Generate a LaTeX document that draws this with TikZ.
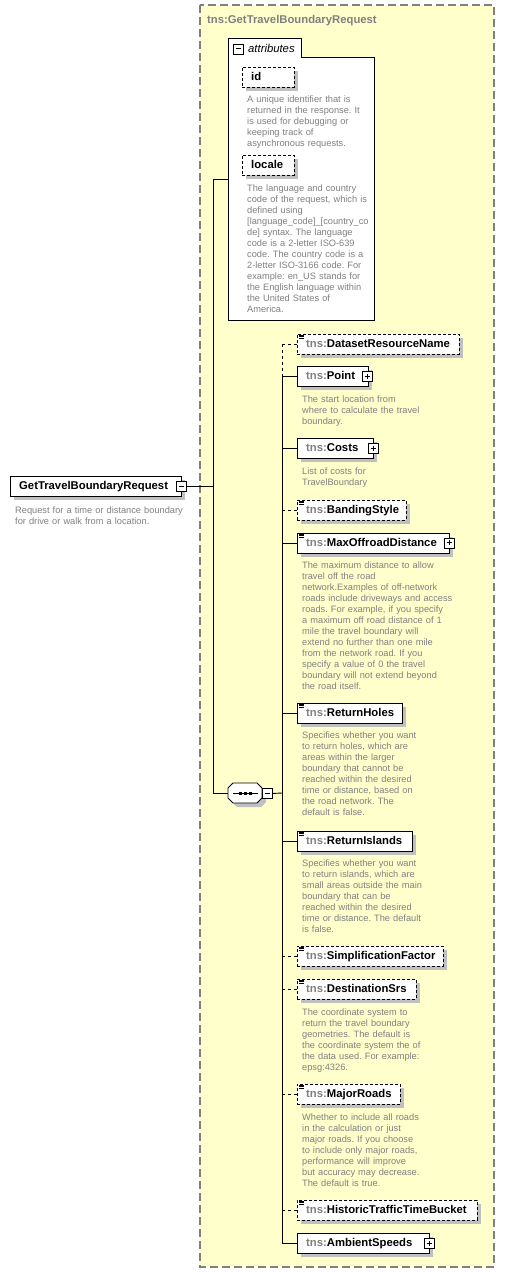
\documentclass[tikz,border=0pt]{standalone}
\usepackage{fontspec}
\setmainfont{Liberation Sans}
\usetikzlibrary{calc}
\frenchspacing
\definecolor{bgyellow}{HTML}{FFFFCC}
\definecolor{dgray}{HTML}{808080}
\definecolor{shgray}{HTML}{C0C0C0}
\tikzset{
  lbl/.style={inner sep=0pt, anchor=base west, font=\fontsize{11.3}{13}\selectfont\bfseries},
  desc/.style={inner sep=0pt, anchor=base west, text width=220pt, align=left, text=dgray, font=\fontsize{9.25}{11}\selectfont\frenchspacing},
  ebox/.style={draw=black, fill=white, line width=0.9pt, inner sep=0pt, minimum height=20pt, anchor=north west},
  optbox/.style={ebox, dash pattern=on 3pt off 2pt},
  iconbox/.style={draw=black, fill=white, line width=0.9pt, inner sep=0pt, minimum size=10pt, anchor=north west},
  conn/.style={line width=0.9pt},
  optconn/.style={line width=0.9pt, dash pattern=on 3pt off 3pt},
  shade/.style={fill=shgray},
  typebox/.style={draw=dgray, fill=bgyellow, line width=1.2pt, dash pattern=on 8pt off 4pt},
}
\newcommand\elem[5]{%
  \fill[shade] (301,#2+4) rectangle ++(#3,20);
  \node[#4, minimum width=#3pt] (#1) at (297,#2) {};
  \node[lbl] (#1-t) at (306,#2+13.5) {\textcolor{dgray}{tns:}#5};
}
\newcommand\listicon[2]{\foreach \d in {1.2,2.6,4.0} {\draw[line width=0.7pt] (#1+2,#2+\d) -- ++(5,0);}}
\newcommand\pmicon[4]{%
  \fill[black] (#2+1.2,#3+1.2) rectangle ++(10,10);
  \node[iconbox] (#1) at (#2,#3) {};
  \draw[line width=0.9pt] (#2+2.5,#3+5) -- ++(5,0);
  \ifnum#4=1 \draw[line width=0.9pt] (#2+5,#3+2.5) -- ++(0,5);\fi
}
\begin{document}
\begin{tikzpicture}[x=1pt,y=-1pt]
\useasboundingbox (0,0) rectangle (505,1275);
% type container
\draw[typebox] (200,5) rectangle (494,1267);
\node[lbl, text=dgray] (title) at (207,23) {tns:GetTravelBoundaryRequest};
% attributes
\node[inner sep=0pt, minimum width=146pt, minimum height=282pt, anchor=north west] (attrs) at (228,38) {};
\draw[fill=white, line width=0.9pt] (228,38) -- (301,38) -- (301,57) -- (374,57) -- (374,320) -- (228,320) -- cycle;
\pmicon{attrminus}{233}{43.5}{0}
\node[inner sep=0pt, anchor=base west, font=\fontsize{11.3}{13}\selectfont\itshape] (attrlbl) at (248,52) {attributes};
\fill[shade] (246,71) rectangle ++(52,20);
\node[optbox, minimum width=52pt] (id) at (242,67) {};
\node[lbl] (id-t) at (251,80.5) {id};
\node[desc] (iddesc) at (247,102) {A unique identifier that is\\returned in the response. It\\is used for debugging or\\keeping track of\\asynchronous requests.};
\fill[shade] (246,159) rectangle ++(52,20);
\node[optbox, minimum width=52pt] (locale) at (242,155) {};
\node[lbl] (locale-t) at (251,168.5) {locale};
\node[desc] (localedesc) at (247,191) {The language and country\\code of the request, which is\\defined using\\{[}language\_code{]}\_{[}country\_co\\de{]} syntax. The language\\code is a 2-letter ISO-639\\code. The country code is a\\2-letter ISO-3166 code. For\\example: en\_US stands for\\the English language within\\the United States of\\America.};
% main element
\fill[shade] (14,480) rectangle ++(171,20);
\node[ebox, minimum width=171pt] (main) at (10,476) {};
\node[lbl] (main-t) at (19,489.5) {GetTravelBoundaryRequest};
\pmicon{mainminus}{176}{481}{0}
\node[desc] (maindesc) at (15,513) {Request for a time or distance boundary\\for drive or walk from a location.};
% sequence
\node[inner sep=0pt, minimum width=34pt, minimum height=20pt] (seq) at (245,793) {};
\fill[shade] (232,792) -- (237,787) -- (261,787) -- (266,792) -- (266,802) -- (261,807) -- (237,807) -- (232,802) -- cycle;
\draw[fill=white, line width=0.9pt] (228,788) -- (233,783) -- (257,783) -- (262,788) -- (262,798) -- (257,803) -- (233,803) -- (228,798) -- cycle;
\draw[line width=0.9pt] (233,793) -- (258,793);
\foreach \sx in {238.5,243.5,248.5} {\fill (\sx,791.5) rectangle ++(3.8,3);}
\pmicon{seqminus}{262}{788}{0}
% trunk connectors
\coordinate (attrin) at (228,179);
\coordinate (tA) at (213,179);
\coordinate (tB) at (213,793);
\coordinate (tC) at (282,793);
\draw[conn] (attrin) -- (tA) -- (tB) -- (seq.west);
\draw[conn] (mainminus.east) -- (mainminus.east -| tA);
\draw[conn] (seqminus.east) -- (tC);
% children
\elem{drn}{334}{162}{optbox}{DatasetResourceName}
\listicon{297}{334}
\elem{point}{366}{71}{ebox}{Point}
\pmicon{pointplus}{362}{371}{1}
\node[desc] (pointdesc) at (302,402.5) {The start location from\\where to calculate the travel\\boundary.};
\elem{costs}{438}{76}{ebox}{Costs}
\pmicon{costsplus}{368}{443}{1}
\node[desc] (costsdesc) at (302,474) {List of costs for\\TravelBoundary};
\elem{banding}{500}{109}{optbox}{BandingStyle}
\listicon{297}{500}
\elem{maxoff}{533}{152}{ebox}{MaxOffroadDistance}
\listicon{297}{533}
\pmicon{maxoffplus}{444}{537.5}{1}
\node[desc] (maxoffdesc) at (302,568) {The maximum distance to allow\\travel off the road\\network.Examples of off-network\\roads include driveways and access\\roads. For example, if you specify\\a maximum off road distance of 1\\mile the travel boundary will\\extend no further than one mile\\from the network road. If you\\specify a value of 0 the travel\\boundary will not extend beyond\\the road itself.};
\elem{rholes}{703}{105}{ebox}{ReturnHoles}
\listicon{297}{703}
\node[desc] (rholesdesc) at (302,738.5) {Specifies whether you want\\to return holes, which are\\areas within the larger\\boundary that cannot be\\reached within the desired\\time or distance, based on\\the road network. The\\default is false.};
\elem{rislands}{831}{115}{ebox}{ReturnIslands}
\listicon{297}{831}
\node[desc] (rislandsdesc) at (302,866) {Specifies whether you want\\to return islands, which are\\small areas outside the main\\boundary that can be\\reached within the desired\\time or distance. The default\\is false.};
\elem{simp}{946}{146}{optbox}{SimplificationFactor}
\listicon{297}{946}
\elem{dest}{979}{119}{optbox}{DestinationSrs}
\listicon{297}{979}
\node[desc] (destdesc) at (302,1015) {The coordinate system to\\return the travel boundary\\geometries. The default is\\the coordinate system the of\\the data used. For example:\\epsg:4326.};
\elem{major}{1084}{103}{optbox}{MajorRoads}
\listicon{297}{1084}
\node[desc] (majordesc) at (302,1120) {Whether to include all roads\\in the calculation or just\\major roads. If you choose\\to include only major roads,\\performance will improve\\but accuracy may decrease.\\The default is true.};
\elem{hist}{1200}{180}{optbox}{HistoricTrafficTimeBucket}
\listicon{297}{1200}
\elem{ambient}{1233}{132}{ebox}{AmbientSpeeds}
\pmicon{ambientplus}{424}{1238}{1}
% child connectors
\draw[optconn] (drn.west -| tC) -- (point.west -| tC);
\draw[conn] (point.west -| tC) -- (ambient.west -| tC);
\foreach \c in {drn,banding,simp,dest,major,hist} {\draw[optconn] (\c.west -| tC) -- (\c.west);}
\foreach \c in {point,costs,maxoff,rholes,rislands,ambient} {\draw[conn] (\c.west -| tC) -- (\c.west);}
\end{tikzpicture}
\end{document}
